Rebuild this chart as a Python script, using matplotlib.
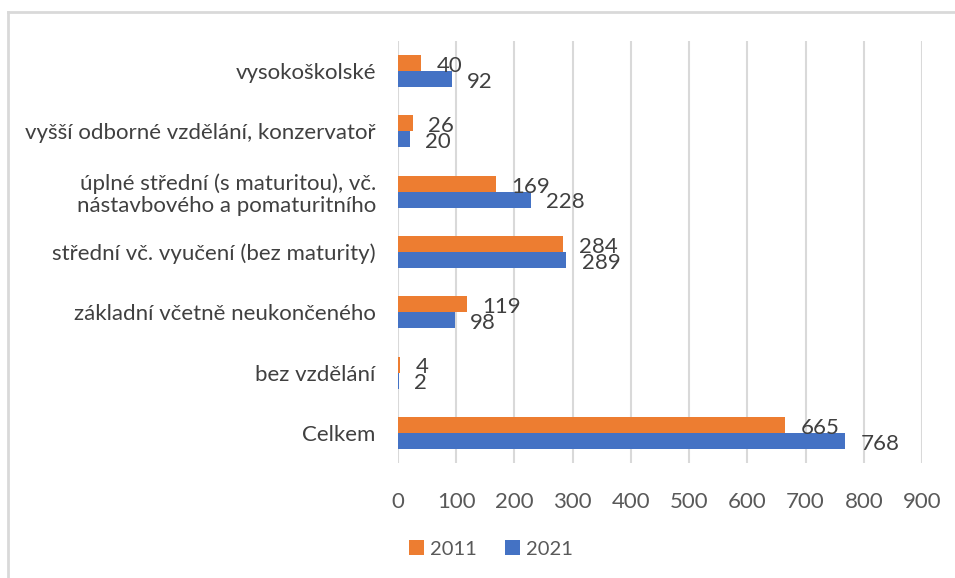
import matplotlib.pyplot as plt
import numpy as np
from matplotlib.lines import Line2D

categories = [
    'Celkem',
    'bez vzdělání',
    'základní včetně neukončeného',
    'střední vč. vyučení (bez maturity)',
    'úplné střední (s maturitou), vč.\nnástavbového a pomaturitního',
    'vyšší odborné vzdělání, konzervatoř',
    'vysokoškolské',
]
values_2011 = [665, 4, 119, 284, 169, 26, 40]
values_2021 = [768, 2, 98, 289, 228, 20, 92]
x_ticks = [0, 100, 200, 300, 400, 500, 600, 700, 800, 900]

color_2011 = '#ED7D31'
color_2021 = '#4472C4'
text_color = '#404040'
tick_color = '#595959'
grid_color = '#D9D9D9'

plt.rcParams['font.family'] = ['Lato', 'DejaVu Sans']

fig = plt.figure(figsize=(9.55, 5.78), dpi=100)
ax = fig.add_axes([398 / 955, 1 - 463 / 578, (922 - 398) / 955, (463 - 41) / 578])

index = np.arange(len(categories))
bar_h = 0.265
ax.barh(index + bar_h / 2, values_2011, bar_h, color=color_2011, label='2011', zorder=3)
ax.barh(index - bar_h / 2, values_2021, bar_h, color=color_2021, label='2021', zorder=3)

for i, v in enumerate(values_2011):
    ax.annotate(f'{v}', (v, i + bar_h / 2), textcoords='offset points', xytext=(11, -2),
                ha='left', va='center', fontsize=16, color=text_color)
for i, v in enumerate(values_2021):
    ax.annotate(f'{v}', (v, i - bar_h / 2), textcoords='offset points', xytext=(11, -2),
                ha='left', va='center', fontsize=16, color=text_color)

ax.set_xlim(0, 900)
ax.set_ylim(-0.5, len(categories) - 0.5)
ax.set_xticks(x_ticks)
ax.set_xticklabels([str(t) for t in x_ticks], fontsize=16, color=tick_color)
ax.set_yticks(index)
ax.set_yticklabels(categories, fontsize=16, color=text_color, linespacing=1.1)
ax.tick_params(axis='both', length=0)
ax.tick_params(axis='x', pad=21)
ax.tick_params(axis='y', pad=16)

for s in ax.spines.values():
    s.set_visible(False)
ax.grid(axis='x', color=grid_color, linewidth=1.5, zorder=0)
ax.set_axisbelow(True)

ax.legend(loc='center', bbox_to_anchor=(491 / 955, 1 - 549 / 578), bbox_transform=fig.transFigure,
          ncol=2, frameon=False, fontsize=14.5, handlelength=0.75, handleheight=0.75,
          handletextpad=0.3, columnspacing=1.4, labelcolor=tick_color)

# chart area border
fig.add_artist(Line2D([8 / 955, 1], [1 - 12 / 578, 1 - 12 / 578], color=grid_color, linewidth=2))
fig.add_artist(Line2D([8 / 955, 8 / 955], [0, 1 - 12 / 578], color=grid_color, linewidth=2))

plt.savefig('out.png', dpi=100)
